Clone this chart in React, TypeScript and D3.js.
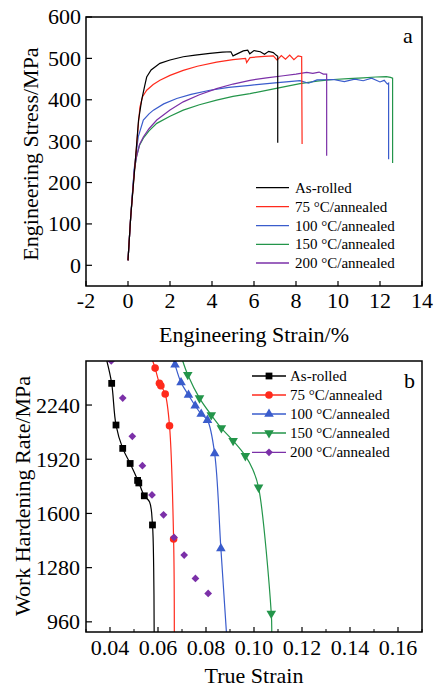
import * as d3 from "d3";
import React from "react";

// ---- panel a: engineering stress-strain ----
const seriesNames = ["As-rolled", "75 °C/annealed", "100 °C/annealed", "150 °C/annealed", "200 °C/annealed"];
const colors = ["#000000", "#ff2a1c", "#3a5ccc", "#23954a", "#7b30a8"];

const rolledStrain = [0, 0.13, 0.33, 0.5, 0.65, 0.8, 0.89, 1.1, 1.52, 2.0, 2.63, 3.2, 3.9, 4.5, 4.9, 5.0, 5.49, 5.7, 5.8, 6.0, 6.3, 6.5, 6.7, 6.92, 7.05, 7.13, 7.13];
const rolledStress = [12, 118, 240, 350, 399, 435, 455, 472, 488, 496, 504, 508, 512, 515, 516, 506, 518, 520, 511, 519, 516, 510, 517, 514, 508, 505, 296];

const a75Strain = [0, 0.13, 0.33, 0.5, 0.57, 0.7, 0.89, 1.2, 1.52, 2.0, 2.63, 3.3, 4.22, 5.0, 5.6, 5.65, 5.81, 6.5, 6.92, 7.1, 7.3, 7.5, 7.7, 7.9, 8.1, 8.27, 8.29];
const a75Stress = [12, 118, 240, 345, 383, 408, 423, 437, 447, 459, 471, 481, 491, 497, 500, 490, 502, 505, 506, 496, 507, 498, 508, 497, 506, 504, 293];

const a100Strain = [0, 0.13, 0.3, 0.49, 0.73, 1.0, 1.21, 1.7, 2.32, 3.0, 3.9, 4.8, 5.81, 7.0, 8.19, 8.6, 9.0, 9.78, 10.3, 10.8, 11.2, 11.6, 12.0, 12.2, 12.35, 12.41, 12.41];
const a100Stress = [12, 118, 235, 311, 351, 366, 375, 390, 403, 413, 423, 430, 435, 441, 446, 440, 448, 449, 444, 450, 446, 452, 443, 447, 438, 440, 256];

const a150Strain = [0, 0.13, 0.3, 0.41, 0.55, 0.73, 1.0, 1.37, 2.0, 2.63, 3.4, 4.22, 5.0, 5.81, 7.0, 8.19, 9.0, 9.78, 10.5, 11.2, 11.8, 12.3, 12.5, 12.6, 12.6];
const a150Stress = [12, 118, 230, 263, 290, 307, 325, 343, 360, 375, 388, 399, 408, 415, 427, 439, 445, 449, 451, 453, 455, 456, 454, 452, 247];

const a200Strain = [0, 0.13, 0.3, 0.41, 0.55, 0.73, 1.0, 1.37, 2.0, 2.63, 3.4, 4.22, 5.0, 5.81, 6.6, 7.4, 8.0, 8.51, 8.8, 9.1, 9.3, 9.46, 9.46];
const a200Stress = [12, 118, 230, 263, 292, 310, 330, 351, 375, 395, 412, 427, 438, 447, 453, 458, 462, 466, 464, 467, 462, 462, 265];

const xTicksA = [-2, 0, 2, 4, 6, 8, 10, 12, 14];
const yTicksA = [0, 100, 200, 300, 400, 500, 600];

// ---- panel b: work hardening rate ----
const rolledLineX = [0.0387, 0.0407, 0.0425, 0.0453, 0.0484, 0.0518, 0.0543, 0.0565, 0.0577, 0.0582, 0.0584];
const rolledLineY = [2500, 2368, 2122, 1984, 1895, 1789, 1704, 1668, 1532, 1280, 900];
const rolledMarkX = [0.0407, 0.0425, 0.0453, 0.0484, 0.0515, 0.052, 0.0543, 0.0577];
const rolledMarkY = [2368, 2122, 1984, 1895, 1795, 1780, 1704, 1532];

const b75LineX = [0.0578, 0.0588, 0.0606, 0.0612, 0.063, 0.0648, 0.0665, 0.0668];
const b75LineY = [2500, 2458, 2368, 2354, 2305, 2118, 1449, 900];
const b75MarkX = [0.0588, 0.0606, 0.0612, 0.063, 0.0648, 0.0665];
const b75MarkY = [2458, 2368, 2354, 2305, 2118, 1449];

const b100LineX = [0.0666, 0.0671, 0.0696, 0.0727, 0.0755, 0.078, 0.0806, 0.0836, 0.0862, 0.0885];
const b100LineY = [2500, 2478, 2373, 2299, 2236, 2187, 2151, 1954, 1393, 900];
const b100MarkX = [0.0671, 0.0696, 0.0727, 0.0755, 0.078, 0.0806, 0.0836, 0.0862];
const b100MarkY = [2478, 2373, 2299, 2236, 2187, 2151, 1954, 1393];

const b150LineX = [0.0703, 0.0724, 0.0773, 0.0822, 0.0864, 0.0913, 0.0964, 0.0995, 0.1019, 0.1072, 0.1074];
const b150LineY = [2500, 2419, 2281, 2181, 2104, 2029, 1940, 1860, 1754, 1009, 900];
const b150MarkX = [0.0724, 0.0773, 0.0822, 0.0864, 0.0913, 0.0964, 0.1019, 0.1072];
const b150MarkY = [2419, 2281, 2181, 2104, 2029, 1940, 1754, 1009];

const b200MarkX = [0.0405, 0.0453, 0.0493, 0.0535, 0.0575, 0.0623, 0.0667, 0.0709, 0.0756, 0.0809];
const b200MarkY = [2500, 2281, 2055, 1882, 1709, 1592, 1458, 1354, 1216, 1128];

const xTicksB = [0.04, 0.06, 0.08, 0.1, 0.12, 0.14, 0.16];
const xMinorB = [0.03, 0.05, 0.07, 0.09, 0.11, 0.13, 0.15, 0.17];
const yTicksB = [960, 1280, 1600, 1920, 2240];

const FONT = "'Liberation Serif', 'Times New Roman', serif";
const zip = (xs: number[], ys: number[]) => xs.map((x, i) => [x, ys[i]] as [number, number]);

const Marker = ({ kind, x, y, color }: { kind: number; x: number; y: number; color: string }) => {
  if (kind === 1) return <circle cx={x} cy={y} r={3.8} fill={color} />;
  let path = "";
  let rot = 0;
  if (kind === 0) path = d3.symbol(d3.symbolSquare, 46)()!;
  if (kind === 2) path = d3.symbol(d3.symbolTriangle, 40)()!;
  if (kind === 3) { path = d3.symbol(d3.symbolTriangle, 40)()!; rot = 180; }
  if (kind === 4) { path = d3.symbol(d3.symbolSquare, 30)()!; rot = 45; }
  return <path d={path} transform={`translate(${x},${y}) rotate(${rot})`} fill={color} />;
};

export default function App() {
  // panel a frame
  const ax0 = 86, ax1 = 422, ay0 = 17, ay1 = 286;
  const xA = d3.scaleLinear().domain([-2, 14]).range([ax0, ax1]);
  const yA = d3.scaleLinear().domain([-50, 600]).range([ay1, ay0]);
  const lineA = d3.line<[number, number]>().x(d => xA(d[0])).y(d => yA(d[1]));
  const curvesA = [
    zip(rolledStrain, rolledStress),
    zip(a75Strain, a75Stress),
    zip(a100Strain, a100Stress),
    zip(a150Strain, a150Stress),
    zip(a200Strain, a200Stress),
  ];
  const drawOrder = [3, 2, 4, 1, 0];

  // panel b frame
  const bx0 = 86, bx1 = 422, by0 = 361, by1 = 632;
  const xB = d3.scaleLinear().domain([0.03, 0.17]).range([bx0, bx1]);
  const yB = d3.scaleLinear().domain([900, 2500]).range([by1, by0]);
  const lineB = d3.line<[number, number]>().x(d => xB(d[0])).y(d => yB(d[1])).curve(d3.curveCatmullRom);
  const linesB = [
    zip(rolledLineX, rolledLineY),
    zip(b75LineX, b75LineY),
    zip(b100LineX, b100LineY),
    zip(b150LineX, b150LineY),
  ];
  const marksB = [
    zip(rolledMarkX, rolledMarkY),
    zip(b75MarkX, b75MarkY),
    zip(b100MarkX, b100MarkY),
    zip(b150MarkX, b150MarkY),
    zip(b200MarkX, b200MarkY),
  ];

  const legA = [187.7, 206.7, 225.7, 244.3, 263];
  const legB = [376, 395, 414, 433, 452.3];

  return (
    <svg width={437} height={691} style={{ position: "absolute", left: 0, top: 0, background: "#fff" }}
      fontFamily={FONT}>
      <defs>
        <clipPath id="clipA"><rect x={ax0} y={ay0} width={ax1 - ax0} height={ay1 - ay0} /></clipPath>
        <clipPath id="clipB"><rect x={bx0} y={by0} width={bx1 - bx0} height={by1 - by0} /></clipPath>
      </defs>

      {/* ---------- panel a ---------- */}
      <g clipPath="url(#clipA)">
        {drawOrder.map(i => (
          <path key={i} d={lineA(curvesA[i])!} fill="none" stroke={colors[i]} strokeWidth={1.2} />
        ))}
      </g>
      <rect x={ax0} y={ay0} width={ax1 - ax0} height={ay1 - ay0} fill="none" stroke="#000" strokeWidth={1.5} />
      {xTicksA.map(t => (
        <g key={t}>
          <line x1={xA(t)} x2={xA(t)} y1={ay1} y2={ay1 - 5} stroke="#000" strokeWidth={1.2} />
          <text x={xA(t)} y={308} fontSize={22} textAnchor="middle">{t}</text>
        </g>
      ))}
      {yTicksA.map(t => (
        <g key={t}>
          <line x1={ax0} x2={ax0 + 6} y1={yA(t)} y2={yA(t)} stroke="#000" strokeWidth={1.2} />
          <text x={81} y={yA(t)} dy="0.34em" fontSize={22} textAnchor="end">{t}</text>
        </g>
      ))}
      <text x={254} y={342} fontSize={22} textAnchor="middle">Engineering Strain/%</text>
      <text transform="translate(38,154) rotate(-90)" fontSize={22} textAnchor="middle">Engineering Stress/MPa</text>
      <text x={403} y={43} fontSize={22}>a</text>
      {seriesNames.map((n, i) => (
        <g key={n}>
          <line x1={256} x2={289} y1={legA[i]} y2={legA[i]} stroke={colors[i]} strokeWidth={1.3} />
          <text x={295} y={legA[i]} dy="0.33em" fontSize={15}>{n}</text>
        </g>
      ))}

      {/* ---------- panel b ---------- */}
      <g clipPath="url(#clipB)">
        {linesB.map((pts, i) => (
          <path key={i} d={lineB(pts)!} fill="none" stroke={colors[i]} strokeWidth={1.2} />
        ))}
        {marksB.map((pts, i) =>
          pts.map((p, j) => <Marker key={`${i}-${j}`} kind={i} x={xB(p[0])} y={yB(p[1])} color={colors[i]} />)
        )}
      </g>
      <rect x={bx0} y={by0} width={bx1 - bx0} height={by1 - by0} fill="none" stroke="#000" strokeWidth={1.5} />
      {xTicksB.map(t => (
        <g key={t}>
          <line x1={xB(t)} x2={xB(t)} y1={by1} y2={by1 - 5} stroke="#000" strokeWidth={1.2} />
          <text x={xB(t)} y={655} fontSize={22} textAnchor="middle">{d3.format(".2f")(t)}</text>
        </g>
      ))}
      {xMinorB.map(t => (
        <line key={t} x1={xB(t)} x2={xB(t)} y1={by1} y2={by1 - 3} stroke="#000" strokeWidth={1} />
      ))}
      {yTicksB.map(t => (
        <g key={t}>
          <line x1={bx0} x2={bx0 + 6} y1={yB(t)} y2={yB(t)} stroke="#000" strokeWidth={1.2} />
          <text x={80} y={yB(t)} dy="0.34em" fontSize={22} textAnchor="end">{t}</text>
        </g>
      ))}
      <text x={254} y={683} fontSize={22} textAnchor="middle">True Strain</text>
      <text transform="translate(30,496) rotate(-90)" fontSize={22} textAnchor="middle">Work Hardening Rate/MPa</text>
      <text x={404} y={388} fontSize={22}>b</text>
      {seriesNames.map((n, i) => (
        <g key={n}>
          <line x1={252} x2={286} y1={legB[i]} y2={legB[i]} stroke={colors[i]} strokeWidth={1.3} />
          <Marker kind={i} x={269} y={legB[i]} color={colors[i]} />
          <text x={290} y={legB[i]} dy="0.33em" fontSize={15}>{n}</text>
        </g>
      ))}
    </svg>
  );
}
